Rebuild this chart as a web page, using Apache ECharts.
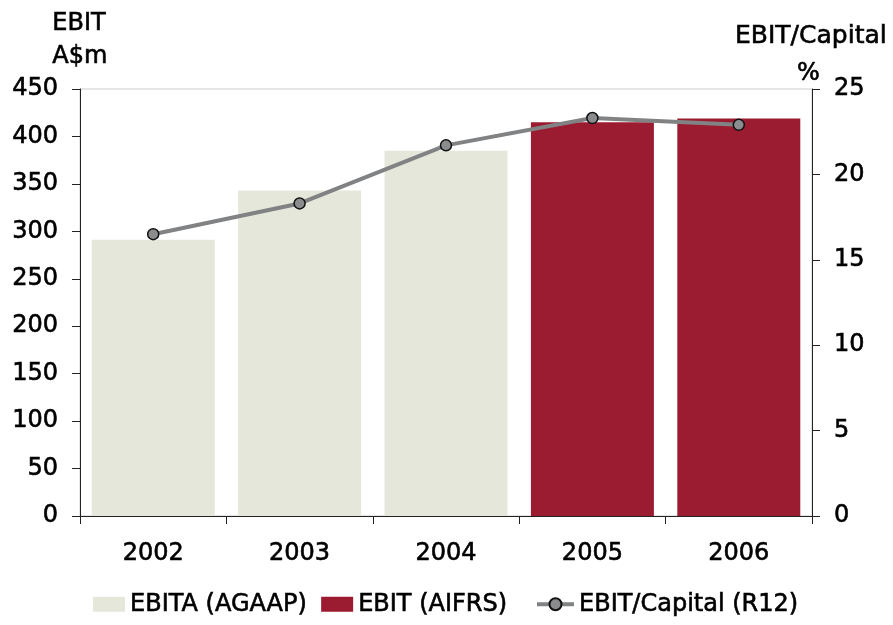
<!DOCTYPE html>
<html>
<head>
<meta charset="utf-8">
<script src="https://cdn.jsdelivr.net/npm/echarts@6/dist/echarts.min.js"></script>
<style>
  html, body { margin: 0; padding: 0; background: #fff; }
  #chart { width: 893px; height: 625px; }
</style>
</head>
<body>
<div id="chart"></div>
<script>
// EBIT by year (A$m) and EBIT/Capital return (%)
const years = ['2002', '2003', '2004', '2005', '2006'];
const ebitaAgaap = [291, 343, 385, '-', '-'];
const ebitAifrs = ['-', '-', '-', 415, 419];
const ebitCapital = [16.5, 18.3, 21.7, 23.3, 22.9];
const leftTicks = { min: 0, max: 450, interval: 50 };
const rightTicks = { min: 0, max: 25, interval: 5 };

const FONT = 'DejaVu Sans';
const TXT = '#000';
const AXIS = '#222';
// slightly heavier glyphs for all chart text
const heavy = { textBorderColor: '#000', textBorderWidth: 0.6 };

const chart = echarts.init(document.getElementById('chart'), null, { renderer: 'canvas' });

chart.setOption({
  animation: false,
  backgroundColor: '#fff',
  textStyle: { fontFamily: FONT },
  grid: {
    left: 80, right: 81, top: 89, bottom: 109,
    show: true, borderColor: '#cccccc', borderWidth: 1, backgroundColor: 'transparent'
  },
  graphic: [
    { type: 'text', left: 52, top: 11, style: { text: 'EBIT', font: '24px "DejaVu Sans"', fill: TXT, stroke: '#000', lineWidth: 0.6 } },
    { type: 'text', left: 52, top: 44, style: { text: 'A$m', font: '24px "DejaVu Sans"', fill: TXT, stroke: '#000', lineWidth: 0.6 } },
    { type: 'text', right: 6, top: 24, style: { text: 'EBIT/Capital', font: '25px "DejaVu Sans"', fill: TXT, stroke: '#000', lineWidth: 0.6 } },
    { type: 'text', right: 73, top: 61, style: { text: '%', font: '24px "DejaVu Sans"', fill: TXT, stroke: '#000', lineWidth: 0.6 } }
  ],
  legend: [
    {
      data: ['EBITA (AGAAP)', 'EBIT (AIFRS)'],
      left: 88, top: 587,
      itemWidth: 32, itemHeight: 15, itemGap: 14,
      icon: 'rect',
      textStyle: Object.assign({ fontFamily: FONT, fontSize: 24, color: TXT, padding: [0, 0, 0, 0] }, heavy)
    },
    {
      data: ['EBIT/Capital (R12)'],
      left: 530, top: 587,
      itemWidth: 37, itemHeight: 15,
      lineStyle: { width: 4, color: '#808284' },
      textStyle: Object.assign({ fontFamily: FONT, fontSize: 24, color: TXT, padding: [0, 0, 0, 0] }, heavy)
    }
  ],
  xAxis: {
    type: 'category',
    data: years,
    boundaryGap: true,
    axisLine: { show: true, lineStyle: { color: AXIS, width: 1 } },
    axisTick: { show: true, length: 8, lineStyle: { color: AXIS } },
    axisLabel: Object.assign({ fontFamily: FONT, fontSize: 24, color: TXT, margin: 26 }, heavy),
    splitLine: { show: false }
  },
  yAxis: [
    {
      type: 'value',
      position: 'left',
      min: leftTicks.min, max: leftTicks.max, interval: leftTicks.interval,
      axisLine: { show: true, lineStyle: { color: AXIS, width: 1 } },
      axisTick: { show: true, length: 8, lineStyle: { color: AXIS } },
      axisLabel: Object.assign({ fontFamily: FONT, fontSize: 24, color: TXT, margin: 22 }, heavy),
      splitLine: { show: false }
    },
    {
      type: 'value',
      position: 'right',
      min: rightTicks.min, max: rightTicks.max, interval: rightTicks.interval,
      axisLine: { show: true, lineStyle: { color: AXIS, width: 1 } },
      axisTick: { show: true, length: 8, lineStyle: { color: AXIS } },
      axisLabel: Object.assign({ fontFamily: FONT, fontSize: 24, color: TXT, margin: 22 }, heavy),
      splitLine: { show: false }
    }
  ],
  series: [
    {
      name: 'EBITA (AGAAP)',
      type: 'bar',
      data: ebitaAgaap,
      barCategoryGap: '16%',
      barGap: '-100%',
      itemStyle: { color: '#e6e7db' }
    },
    {
      name: 'EBIT (AIFRS)',
      type: 'bar',
      data: ebitAifrs,
      barCategoryGap: '16%',
      barGap: '-100%',
      itemStyle: { color: '#9b1b30' }
    },
    {
      name: 'EBIT/Capital (R12)',
      type: 'line',
      yAxisIndex: 1,
      data: ebitCapital,
      symbol: 'circle',
      symbolSize: 11,
      lineStyle: { color: '#808284', width: 4 },
      itemStyle: { color: '#8a8c8e', borderColor: '#111', borderWidth: 1.5 },
      z: 5
    }
  ]
});
</script>
</body>
</html>
